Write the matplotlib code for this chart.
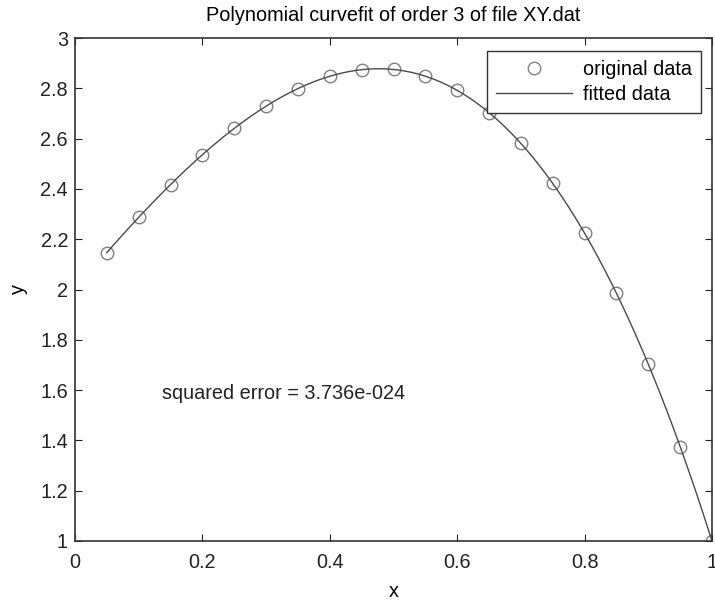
import numpy as np
import matplotlib
matplotlib.use("Agg")
import matplotlib.pyplot as plt

# Data
x_data = [0.05, 0.10, 0.15, 0.20, 0.25, 0.30, 0.35, 0.40, 0.45, 0.50,
          0.55, 0.60, 0.65, 0.70, 0.75, 0.80, 0.85, 0.90, 0.95, 1.00]
y_data = [2.147, 2.287, 2.417, 2.536, 2.641, 2.729, 2.799, 2.848, 2.874, 2.875,
          2.848, 2.792, 2.702, 2.581, 2.422, 2.224, 1.985, 1.703, 1.375, 1.000]
fit_order = 3
title_text = "Polynomial curvefit of order 3 of file XY.dat"
annotation = "squared error = 3.736e-024"
x_ticks = [0, 0.2, 0.4, 0.6, 0.8, 1]
x_ticklabels = ["0", "0.2", "0.4", "0.6", "0.8", "1"]
y_ticks = [1, 1.2, 1.4, 1.6, 1.8, 2, 2.2, 2.4, 2.6, 2.8, 3]
y_ticklabels = ["1", "1.2", "1.4", "1.6", "1.8", "2", "2.2", "2.4", "2.6", "2.8", "3"]

plt.rcParams['font.family'] = ['Liberation Sans', 'DejaVu Sans']
FS = 14.3

fig = plt.figure(figsize=(7.15, 6.00), dpi=100)
ax = fig.add_axes([75/715, 1-541/600, (712-75)/715, (541-38)/600])

xd = np.array(x_data)
yd = np.array(y_data)
coef = np.polyfit(xd, yd, fit_order)
xf = np.linspace(xd.min(), xd.max(), 200)
yf = np.polyval(coef, xf)

ax.plot(xd, yd, linestyle='none', marker='o', markersize=9, markerfacecolor='none',
        markeredgecolor='#808080', markeredgewidth=1.0, label='original data')
ax.plot(xf, yf, color='#4a4a4a', linewidth=1.0, label='fitted data')

ax.set_xlim(0, 1)
ax.set_ylim(1, 3)
ax.set_xticks(x_ticks)
ax.set_xticklabels(x_ticklabels)
ax.set_yticks(y_ticks)
ax.set_yticklabels(y_ticklabels)
ax.tick_params(direction='in', length=5, width=0.8, top=True, right=True,
               labelsize=FS, colors='#222222')
ax.tick_params(axis='x', pad=9)
ax.tick_params(axis='y', pad=5)
for s in ax.spines.values():
    s.set_linewidth(1.2)
    s.set_color('#333333')

ax.set_title(title_text, fontsize=FS, pad=12.5)
ax.set_xlabel('x', fontsize=FS, labelpad=7)
ax.set_ylabel('y', fontsize=FS, labelpad=9)

ax.text(0.1365, 1.585, annotation, fontsize=FS, va='center', ha='left', color='#222222')

leg = ax.legend(loc='upper right', bbox_to_anchor=(0.9827, 0.9748), borderaxespad=0,
                fontsize=FS, fancybox=False, edgecolor='#333333', framealpha=1,
                handlelength=3.8, handletextpad=0.58, labelspacing=0.3,
                borderpad=0.45, markerscale=1.0)
leg.get_frame().set_linewidth(1.0)

fig.savefig('out.png', dpi=100)
